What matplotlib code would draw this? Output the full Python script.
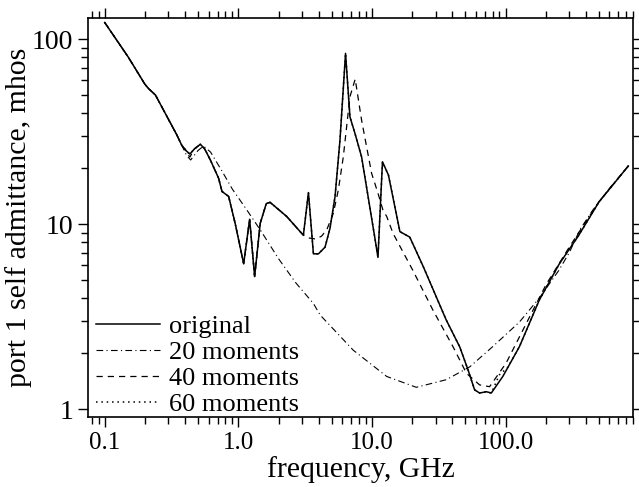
import matplotlib
matplotlib.use("Agg")
import matplotlib.pyplot as plt
from matplotlib.ticker import FixedLocator, LogLocator, NullFormatter

plt.rcParams['font.family'] = ['Liberation Serif', 'DejaVu Serif']

# original response
f_orig = [0.1, 0.15, 0.2, 0.213, 0.24, 0.347, 0.377, 0.41, 0.434, 0.47, 0.52, 0.56,
          0.618, 0.712, 0.755, 0.847, 0.95, 1.097, 1.216, 1.325, 1.46, 1.62, 1.73,
          2.3, 3.07, 3.35, 3.65, 3.98, 4.46, 4.86, 5.3, 5.77, 6.35, 6.85, 7.47, 8.37,
          10.5, 11.1, 12.0, 13.3, 16.2, 19.2, 24.2, 36, 45.4, 52.4, 58.7, 64, 71.8,
          78.3, 95.5, 127, 179, 253, 350, 502, 830]
y_orig = [123, 80, 57, 54, 49.8, 30.3, 26.7, 24.8, 23.9, 25.5, 27, 25.5,
          22.2, 17.7, 15, 14.1, 10, 6.1, 10.6, 5.2, 10.1, 12.9, 13.1,
          11, 8.7, 14.8, 6.9, 6.9, 7.5, 9.5, 14.1, 28.5, 83.7, 38, 30.9, 23.1,
          8.5, 6.6, 21.7, 18.4, 9.1, 8.5, 5.9, 3.03, 2.17, 1.63, 1.27, 1.22, 1.24,
          1.22, 1.5, 2.17, 3.88, 6.1, 8.6, 13.2, 20.6]

# 20 moments
f_20 = [0.1, 0.15, 0.2, 0.213, 0.24, 0.347, 0.377, 0.41, 0.44, 0.5, 0.55, 0.62,
        0.75, 0.9, 1.16, 1.46, 2.0, 2.7, 3.65, 4.1, 7.25, 12.9, 21.5, 36, 54, 80,
        127, 180, 250, 300, 360, 450, 600, 830]
y_20 = [123, 80, 57, 54, 49.8, 30.3, 26.7, 23.5, 22.2, 25, 26.4, 24.5,
        19.5, 15.5, 11.9, 9.3, 6.5, 4.8, 3.72, 3.22, 2.08, 1.5, 1.31, 1.44, 1.69, 2.17,
        2.95, 4.0, 5.6, 7.0, 9.3, 11.9, 15.6, 20.6]

# 40 moments
f_40 = [0.1, 0.15, 0.2, 0.213, 0.24, 0.347, 0.377, 0.41, 0.434, 0.47, 0.52, 0.56,
        0.618, 0.712, 0.755, 0.847, 0.95, 1.097, 1.216, 1.325, 1.46, 1.62, 1.73,
        2.3, 3.07, 3.4, 3.8, 4.2, 4.59, 5.14, 5.61, 6.11, 6.85, 7.5, 8.37, 9.95,
        11.1, 12.1, 12.9, 14.4, 20.3, 28.6, 40.5, 51, 64, 76, 101, 143, 201, 300,
        500, 830]
y_40 = [123, 80, 57, 54, 49.8, 30.3, 26.7, 24.5, 23.0, 25.5, 27, 25.5,
        22.2, 17.7, 15, 14.1, 10, 6.1, 10.6, 5.2, 10.1, 12.9, 13.1,
        11, 8.7, 8.4, 8.3, 8.6, 9.3, 11.4, 15.3, 23.1, 48.8, 60.8, 36.5, 18.8,
        14.7, 11.9, 11, 8.9, 5.6, 3.43, 2.17, 1.56, 1.35, 1.32, 1.77, 2.9, 4.7, 7.5,
        13.2, 20.6]

# 60 moments
f_60 = [0.1, 0.15, 0.2, 0.213, 0.24, 0.347, 0.377, 0.41, 0.434, 0.47, 0.52, 0.56,
        0.618, 0.712, 0.755, 0.847, 0.95, 1.097, 1.216, 1.325, 1.46, 1.62, 1.73,
        2.3, 3.07, 3.35, 3.65, 3.98, 4.46, 4.86, 5.3, 5.77, 6.35, 6.85, 7.47, 8.37,
        10.5, 11.1, 12.0, 13.3, 16.2, 19.2, 24.2, 36, 45.4, 52.4, 58.7, 64, 71.8,
        78.3, 90, 104, 127, 179, 253, 350, 502, 830]
y_60 = [123, 80, 57, 54, 49.8, 30.3, 26.7, 24.8, 23.9, 25.5, 27, 25.5,
        22.2, 17.7, 15, 14.1, 10, 6.1, 10.6, 5.2, 10.1, 12.9, 13.1,
        11, 8.7, 14.8, 6.9, 6.9, 7.5, 9.5, 14.1, 28.5, 83.7, 38, 30.9, 23.1,
        8.5, 6.6, 21.7, 18.4, 9.1, 8.5, 5.9, 3.03, 2.17, 1.63, 1.27, 1.22, 1.24,
        1.22, 1.53, 1.68, 2.17, 3.88, 6.1, 8.6, 13.2, 20.6]

xticks = [0.1, 1.0, 10.0, 100.0]
xtick_labels = ["0.1", "1.0", "10.0", "100.0"]
yticks = [1, 10, 100]
ytick_labels = ["1", "10", "100"]

fig = plt.figure(figsize=(6.39, 4.87), dpi=100)
ax = fig.add_axes([0.1377, 0.1437, 0.8529, 0.8193])

ax.plot(f_orig, y_orig, color='black', lw=1.1, ls='-', label='original')
ax.plot(f_20, y_20, color='black', lw=0.8, ls=(0, (6, 3, 1, 3)), label='20 moments')
ax.plot(f_40, y_40, color='black', lw=0.9, ls=(0, (5, 4)), label='40 moments')
ax.plot(f_60, y_60, color='black', lw=1.1, ls=(0, (1, 2.5)), label='60 moments')

ax.set_xscale('log')
ax.set_yscale('log')
ax.set_xlim(0.075, 900)
ax.set_ylim(0.905, 130)

ax.xaxis.set_major_locator(FixedLocator(xticks))
ax.set_xticklabels(xtick_labels)
ax.yaxis.set_major_locator(FixedLocator(yticks))
ax.set_yticklabels(ytick_labels)
ax.xaxis.set_minor_locator(LogLocator(base=10, subs=range(2, 10)))
ax.yaxis.set_minor_locator(LogLocator(base=10, subs=range(2, 10)))
ax.xaxis.set_minor_formatter(NullFormatter())
ax.yaxis.set_minor_formatter(NullFormatter())

ax.tick_params(which='both', direction='out', top=True, right=True,
               width=1, colors='black')
ax.tick_params(axis='x', labelsize=18)
ax.tick_params(axis='y', labelsize=20)
ax.tick_params(which='major', length=7)
ax.tick_params(which='minor', length=5)
for s in ax.spines.values():
    s.set_linewidth(1.2)

ax.set_xlabel('frequency, GHz', fontsize=21.3, labelpad=2)
ax.set_ylabel('port 1 self admittance, mhos', fontsize=21.5, labelpad=0)

ax.legend(loc='lower left', bbox_to_anchor=(-0.0147, -0.0375), frameon=False,
          fontsize=19, handlelength=2.45, handletextpad=0.34,
          labelspacing=0.1, borderaxespad=0.2)

fig.savefig('out.png', dpi=100)
